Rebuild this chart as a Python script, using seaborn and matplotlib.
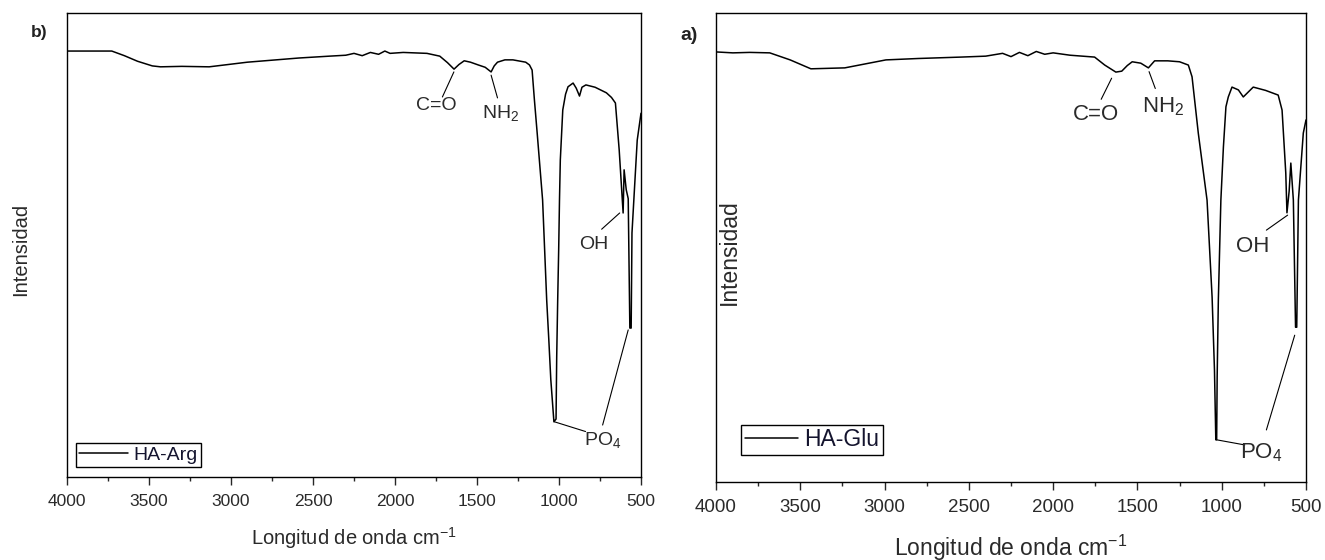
import matplotlib
matplotlib.use("Agg")
import matplotlib.pyplot as plt
import seaborn as sns
import pandas as pd
from matplotlib.ticker import MultipleLocator

sns.set_style("ticks")
plt.rcParams['font.family'] = ['Liberation Sans', 'DejaVu Sans']
plt.rcParams['mathtext.fontset'] = 'custom'
plt.rcParams['mathtext.rm'] = 'Liberation Sans'
plt.rcParams['mathtext.it'] = 'Liberation Sans'

# ---------------- data ----------------
wn_arg = [4000, 3727, 3650, 3570, 3480, 3430, 3300, 3133, 2900, 2586, 2400, 2300, 2250,
          2200, 2150, 2100, 2062, 2030, 1950, 1805, 1727, 1680, 1640, 1610, 1578, 1540,
          1492, 1450, 1414, 1395, 1375, 1330, 1281, 1203, 1180, 1164, 1150, 1133, 1100,
          1075, 1062, 1050, 1031, 1018, 1014, 1008, 1002, 997, 992, 977, 960, 945, 914,
          895, 875, 860, 836, 780, 711, 680, 656, 633, 609, 603, 590, 578, 568, 560, 555,
          540, 523, 500]
int_arg = [91.8, 91.8, 90.8, 89.6, 88.6, 88.4, 88.5, 88.4, 89.4, 90.3, 90.7, 90.9, 91.3,
           90.8, 91.5, 91.1, 91.8, 91.3, 91.5, 91.3, 90.7, 89.3, 87.9, 88.9, 89.7, 89.4,
           88.8, 88.3, 87.3, 88.6, 89.4, 89.9, 89.9, 89.4, 88.8, 87.7, 81.3, 74.1, 59.7,
           38.1, 29.5, 21.0, 11.9, 12.5, 25.9, 38.1, 48.9, 59.7, 68.3, 79.1, 82.5, 84.1, 84.9,
           83.8, 82.1, 84.0, 84.5, 84.0, 82.8, 81.8, 80.6, 70.5, 56.9, 66.2, 61.9, 60.0, 32.1,
           32.1, 52.6, 62.0, 72.6, 78.4]

wn_glu = [4000, 3900, 3800, 3681, 3560, 3437, 3236, 2992, 2800, 2547, 2400, 2300, 2250,
          2200, 2150, 2100, 2050, 2000, 1900, 1754, 1694, 1628, 1593, 1560, 1531, 1480,
          1435, 1398, 1320, 1250, 1198, 1176, 1139, 1087, 1057, 1043, 1035, 1030, 1027,
          1020, 1005, 990, 975, 961, 939, 901, 872, 813, 740, 665, 642, 620, 613, 600, 590,
          575, 562, 555, 545, 516, 500]
int_glu = [91.7, 91.5, 91.6, 91.5, 90.0, 88.1, 88.3, 90.0, 90.3, 90.6, 90.8, 91.4, 90.7,
           91.6, 90.9, 91.8, 91.2, 91.5, 91.0, 90.6, 88.9, 87.4, 87.6, 88.8, 89.6, 89.3,
           88.3, 89.8, 89.8, 89.6, 88.9, 86.4, 74.4, 60.1, 39.4, 23.9, 9.0, 9.0, 22.4,
           38.8, 60.1, 71.4, 80.0, 82.1, 84.2, 83.6, 82.1, 84.2, 83.5, 82.5, 79.3, 65.9,
           57.4, 62.0, 68.0, 60.1, 33.0, 33.0, 60.1, 74.4, 77.2]

x_ticks = [4000, 3500, 3000, 2500, 2000, 1500, 1000, 500]
x_label = "Longitud de onda cm$^{-1}$"
y_label = "Intensidad"

# annotations: (text, text_x, text_y, [line segments])
ann_arg = [
    ("C=O", 1750, 80.0, [((1641, 87.3), (1711, 81.9))]),
    ("NH$_2$", 1359, 78.4, [((1414, 86.6), (1375, 81.7))]),
    ("OH", 786, 50.2, [((630, 56.9), (740, 53.4))]),
    ("PO$_4$", 734, 8.0, [((1028, 11.9), (838, 9.8)), ((734, 11.2), (578, 31.7))]),
]
ann_glu = [
    ("C=O", 1747, 78.3, [((1653, 86.1), (1715, 81.6))]),
    ("NH$_2$", 1345, 80.0, [((1431, 87.5), (1394, 83.9))]),
    ("OH", 814, 50.2, [((609, 56.9), (735, 53.7))]),
    ("PO$_4$", 764, 6.2, [((1031, 9.0), (863, 7.9)), ((735, 11.1), (567, 31.3))]),
]

df_arg = pd.DataFrame({"wn": wn_arg, "I": int_arg})
df_glu = pd.DataFrame({"wn": wn_glu, "I": int_glu})

fig = plt.figure(figsize=(13.25, 5.6), dpi=100)
axL = fig.add_axes([67/1325, 1-477/560, 574/1325, 464/560])
axR = fig.add_axes([716/1325, 1-482/560, 590/1325, 469/560])

txt_col = "#2a2a2a"

def style(ax, df, name, ann, tfs, lfs, afs, legfs, leg_anchor, handlelen, ylab_x):
    sns.lineplot(data=df, x="wn", y="I", ax=ax, color="black", lw=1.1, sort=False,
                 estimator=None, label=name)
    ax.set_xlim(4000, 500)
    ax.set_ylim(0, 100)
    ax.set_yticks([])
    ax.set_xticks(x_ticks)
    ax.set_xticklabels([str(t) for t in x_ticks], color=txt_col, fontsize=tfs)
    ax.xaxis.set_minor_locator(MultipleLocator(250))
    ax.tick_params(axis="x", which="major", direction="out", length=6, width=1,
                   top=False, pad=6)
    ax.tick_params(axis="x", which="minor", direction="out", length=3, width=1, top=False)
    for s in ax.spines.values():
        s.set_linewidth(1.0)
        s.set_color("black")
    ax.set_xlabel(x_label, fontsize=lfs, color=txt_col, labelpad=12)
    ax.set_ylabel("")
    ax.text(ylab_x, 0.49, y_label, rotation=90, ha="center", va="center",
            transform=ax.transAxes, fontsize=lfs, color=txt_col)
    for t, tx, ty, segs in ann:
        ax.text(tx, ty, t, ha="center", va="center", fontsize=afs, color=txt_col)
        for (x0, y0), (x1, y1) in segs:
            ax.plot([x0, x1], [y0, y1], color="black", lw=0.8)
    leg = ax.legend(loc="lower left", bbox_to_anchor=leg_anchor, borderaxespad=0,
                    fancybox=False, framealpha=1, edgecolor="black", fontsize=legfs,
                    handlelength=handlelen, handletextpad=0.3, borderpad=0.15)
    leg.get_frame().set_linewidth(1.0)
    for tx in leg.get_texts():
        tx.set_color("#14142e")

style(axL, df_arg, "HA-Arg", ann_arg, 12.5, 14.5, 14, 14, (0.016, 0.022), 2.5, -0.08)
style(axR, df_glu, "HA-Glu", ann_glu, 13.5, 16.5, 16, 16.5, (0.043, 0.058), 2.3, 0.022)

fig.text(39/1325, 1-33/560, "b)", fontsize=12.5, fontweight="bold", ha="center",
         va="center", color="#222222")
fig.text(689/1325, 1-35/560, "a)", fontsize=14, fontweight="bold", ha="center",
         va="center", color="#222222")

fig.savefig("out.png", dpi=100)
